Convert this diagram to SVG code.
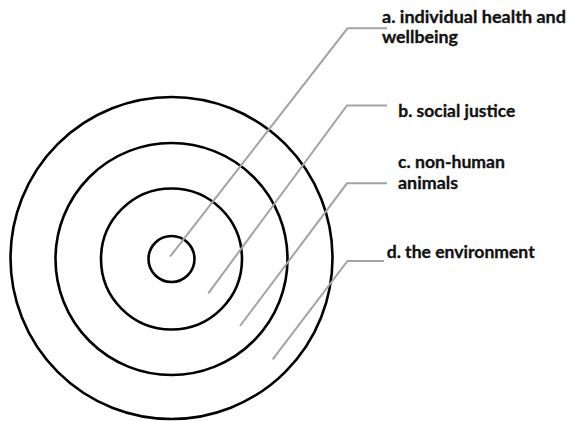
<svg xmlns="http://www.w3.org/2000/svg" width="567" height="421" viewBox="0 0 567 421">
<style>
.ring{fill:none;stroke:#000;stroke-width:2.6}
.lead{fill:none;stroke:#a3a3a3;stroke-width:2;stroke-linejoin:miter}
.lbl{font-family:Lato,"Open Sans","Liberation Sans",sans-serif;font-weight:bold;font-size:17px;fill:#111;stroke:#111;stroke-width:0.3}
</style>
<rect width="567" height="421" fill="#fff"/>
<g id="rings">
<circle id="ring-d" class="ring" cx="171.5" cy="258" r="161"/>
<circle id="ring-c" class="ring" cx="171.5" cy="259" r="116"/>
<circle id="ring-b" class="ring" cx="171.5" cy="259" r="70.5"/>
<circle id="ring-a" class="ring" cx="171.5" cy="259" r="23"/>
</g>
<g id="connectors">
<polyline class="lead" points="170,256.7 347.5,28.3 387,28.3"/>
<polyline class="lead" points="208.3,293.3 347,105.5 387,105.5"/>
<polyline class="lead" points="240,326 347,183.3 387,183.3"/>
<polyline class="lead" points="272.7,359.3 347.5,261 384,261"/>
</g>
<g id="label-a">
<text class="lbl" x="382" y="23" textLength="184" lengthAdjust="spacingAndGlyphs">a. individual health and</text>
<text class="lbl" x="382" y="42.5" textLength="76" lengthAdjust="spacingAndGlyphs">wellbeing</text>
</g>
<g id="label-b">
<text class="lbl" x="398.3" y="117.3" textLength="117" lengthAdjust="spacingAndGlyphs">b. social justice</text>
</g>
<g id="label-c">
<text class="lbl" x="398" y="168.3" textLength="107" lengthAdjust="spacingAndGlyphs">c. non-human</text>
<text class="lbl" x="398" y="189.3" textLength="60" lengthAdjust="spacingAndGlyphs">animals</text>
</g>
<g id="label-d">
<text class="lbl" x="386.7" y="258" textLength="148" lengthAdjust="spacingAndGlyphs">d. the environment</text>
</g>
</svg>
